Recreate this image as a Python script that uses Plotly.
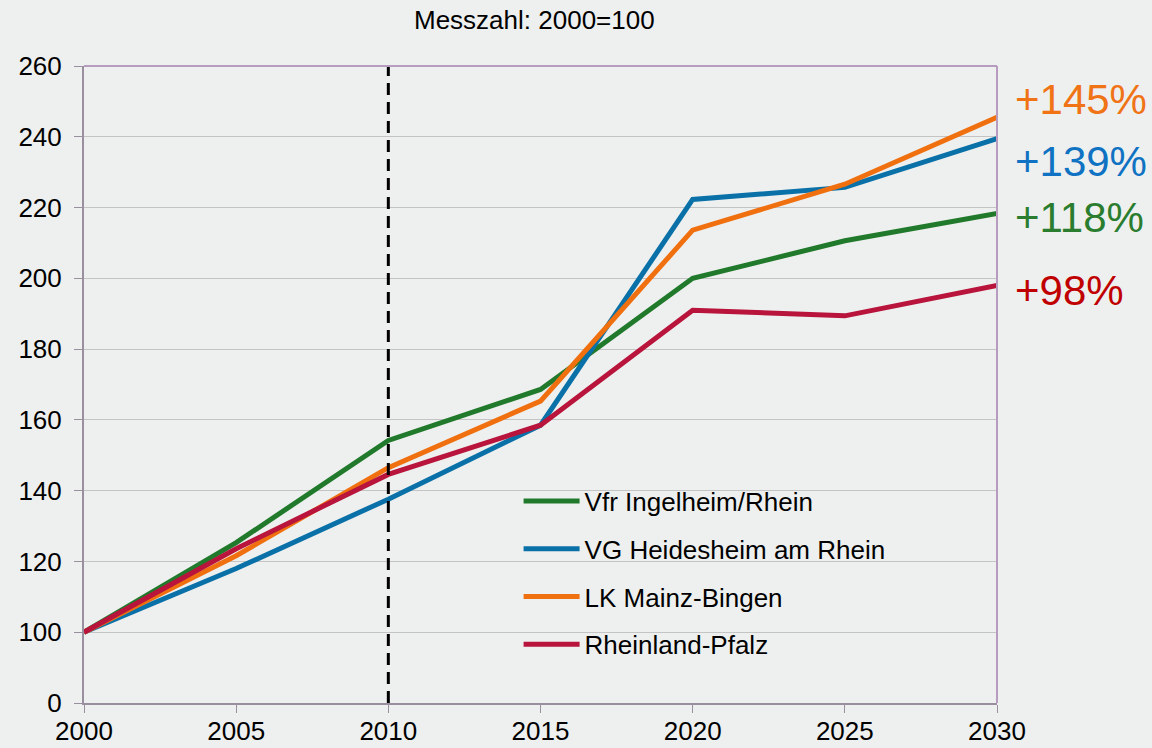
import plotly.graph_objects as go

years = [2000, 2005, 2010, 2015, 2020, 2025, 2030]
series_names = ["Vfr Ingelheim/Rhein", "VG Heidesheim am Rhein", "LK Mainz-Bingen", "Rheinland-Pfalz"]
ingelheim = [100, 125.3, 154.2, 168.6, 200.0, 210.6, 218.3]
heidesheim = [100, 118.0, 137.6, 158.5, 222.3, 225.7, 239.5]
mainz_bingen = [100, 121.6, 146.5, 165.3, 213.6, 226.6, 245.5]
rlp = [100, 123.6, 144.6, 158.5, 191.0, 189.4, 198.0]
line_colors = ["#217a2c", "#0a71a8", "#f07010", "#b8143c"]

end_labels = ["+118%", "+139%", "+145%", "+98%"]
end_label_colors = ["#2a7d2e", "#0f72c2", "#f07316", "#c00000"]
end_label_y = [217.1, 232.9, 250.4, 196.7]

y_tickvals = [80, 100, 120, 140, 160, 180, 200, 220, 240, 260]
y_ticktext = ["0", "100", "120", "140", "160", "180", "200", "220", "240", "260"]
x_ticks = [2000, 2005, 2010, 2015, 2020, 2025, 2030]

fig = go.Figure()
for i, (name, vals) in enumerate(zip(series_names, [ingelheim, heidesheim, mainz_bingen, rlp])):
    fig.add_trace(go.Scatter(
        x=years, y=vals, mode="lines", name=name,
        line=dict(color=line_colors[i], width=5),
        legendgroup=f"g{i}",
    ))

# dashed vertical line at 2010
fig.add_shape(type="line", x0=2010, x1=2010, y0=80, y1=260, xref="x", yref="y",
              line=dict(color="black", width=3, dash="12px,7px"))

for txt, col, yv in zip(end_labels, end_label_colors, end_label_y):
    fig.add_annotation(x=1.0, xref="paper", y=yv, yref="y", text=txt, showarrow=False,
                       xanchor="left", xshift=16, font=dict(size=42, color=col))

fig.add_annotation(x=0.493, xref="paper", y=1.0, yref="paper", yshift=46, text="Messzahl: 2000=100",
                   showarrow=False, font=dict(size=26, color="black"), yanchor="middle")

fig.update_layout(
    width=1152, height=748,
    paper_bgcolor="#eef0ef", plot_bgcolor="#eef0ef",
    margin=dict(l=84, r=155, t=66, b=45, autoexpand=False),
    font=dict(family="Liberation Sans, Arial, sans-serif", size=26, color="black"),
    showlegend=True,
    legend=dict(x=0.476, y=0.354, xanchor="left", yanchor="top", bgcolor="rgba(0,0,0,0)",
                tracegroupgap=11, itemwidth=56, font=dict(size=26)),
    xaxis=dict(range=[2000, 2030], tickvals=x_ticks, showgrid=False, automargin=False,
               showline=True, linecolor="#9a8f9f", linewidth=2, mirror=False,
               ticks="outside", ticklen=8, tickcolor="#9a8f9f", zeroline=False,
               ticklabelstandoff=-4),
    yaxis=dict(range=[80, 260], tickvals=y_tickvals, ticktext=y_ticktext, automargin=False,
               showgrid=True, gridcolor="#c4c4c4", gridwidth=1,
               showline=True, linecolor="#9a8f9f", linewidth=2,
               ticks="outside", ticklen=8, tickcolor="#9a8f9f", zeroline=False,
               ticklabelstandoff=7),
)
# top & right border
fig.add_shape(type="line", xref="paper", yref="paper", x0=0, x1=1, y0=1, y1=1,
              line=dict(color="#b89cc0", width=2))
fig.add_shape(type="line", xref="paper", yref="paper", x0=1, x1=1, y0=0, y1=1,
              line=dict(color="#b89cc0", width=2))

fig.write_html("out.html", config={"displayModeBar": False},
               post_script="document.body.style.margin='0';document.body.style.overflow='hidden';")
